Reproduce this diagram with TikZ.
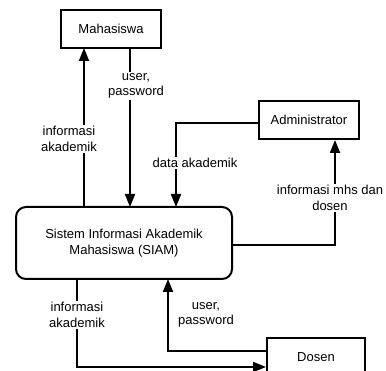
\documentclass[tikz,border=0pt]{standalone}
\usepackage{fontspec}
\setmainfont{Liberation Sans}
\usetikzlibrary{arrows.meta}
\begin{document}
\begin{tikzpicture}[x=1pt,y=-1pt,
  every node/.style={font=\fontsize{13}{15.5}\selectfont, inner sep=0pt},
  ent/.style={draw, line width=2pt, minimum width=100pt, minimum height=38pt},
  proc/.style={draw, line width=2pt, rounded corners=10pt, minimum width=216pt, minimum height=72pt},
  flow/.style={line width=2pt, -{Triangle[length=13pt,width=10pt]}},
  lbl/.style={fill=white, align=center, inner sep=1.5pt}]
\useasboundingbox (0,0) rectangle (386,371);
\node[ent] (mhs) at (111,29) {Mahasiswa};
\node[ent] (adm) at (309,120) {Administrator};
\node[proc, align=center] (siam) at (124,243) {Sistem Informasi Akademik\\Mahasiswa (SIAM)};
\node[ent, minimum width=98pt] (dos) at (316,357) {Dosen};
% connectors
\coordinate (a1) at (84,207);
\coordinate (a2) at (84,48);
\draw[flow] (a1) -- (a2);
\coordinate (b1) at (130,48);
\coordinate (b2) at (130,207);
\draw[flow] (b1) -- (b2);
\coordinate (c0) at (176,123);
\coordinate (c2) at (176,207);
\draw[flow] (adm.west |- c0) -- (c0) -- (c2);
\coordinate (d0) at (335,245);
\draw[flow] (siam.east |- d0) -- (d0) -- (d0 |- adm.south);
\coordinate (e1) at (77,279);
\coordinate (e2) at (77,367);
\draw[flow] (e1) -- (e2) -- (dos.west |- e2);
\coordinate (f1) at (168,351);
\coordinate (f2) at (168,279);
\draw[flow] (dos.west |- f1) -- (f1) -- (f2);
% labels
\node[lbl] (l1) at (69,139) {informasi\\akademik};
\node[lbl] (l2) at (136,86) {user,\\password};
\node[lbl] (l3) at (195,163) {data akademik};
\node[lbl] (l4) at (330,198) {informasi mhs dan\\dosen};
\node[lbl] (l5) at (77,315) {informasi\\akademik};
\node[lbl] (l6) at (206,315) {user,\\password};
\end{tikzpicture}
\end{document}
